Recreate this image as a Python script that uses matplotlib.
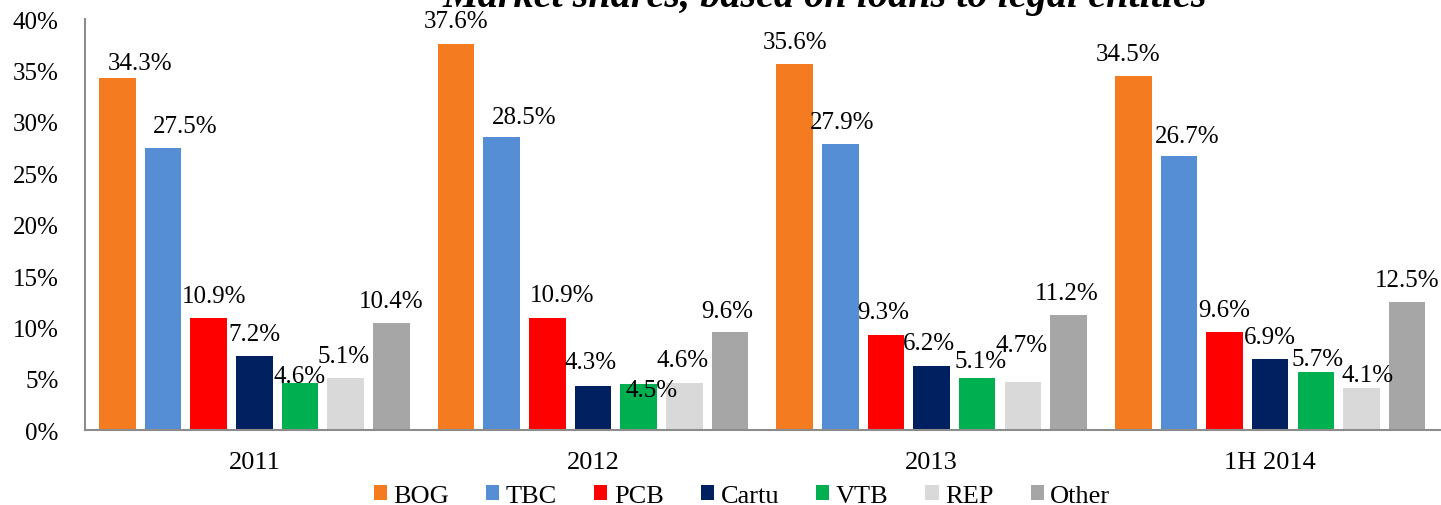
import numpy as np
import matplotlib.pyplot as plt

plt.rcParams['font.family'] = ['Liberation Serif', 'DejaVu Serif']

periods = ['2011', '2012', '2013', '1H 2014']
banks = ['BOG', 'TBC', 'PCB', 'Cartu', 'VTB', 'REP', 'Other']
colors = ['#F47B20', '#558ED5', '#FF0000', '#002060', '#00B050', '#D9D9D9', '#A6A6A6']

# market share (%) per bank, one value per period
bog = [34.3, 37.6, 35.6, 34.5]
tbc = [27.5, 28.5, 27.9, 26.7]
pcb = [10.9, 10.9, 9.3, 9.6]
cartu = [7.2, 4.3, 6.2, 6.9]
vtb = [4.6, 4.5, 5.1, 5.7]
rep = [5.1, 4.6, 4.7, 4.1]
other = [10.4, 9.6, 11.2, 12.5]
series = [bog, tbc, pcb, cartu, vtb, rep, other]

# label nudges in pixels (dx, gap above bar top); default is (0, 16)
nudges = {
    (0, 0): (23, 9), (0, 1): (22, 16), (0, 2): (5, 16), (0, 4): (0, 1), (0, 5): (-2, 16),
    (1, 0): (0, 17), (1, 1): (23, 14), (1, 2): (15, 17), (1, 3): (-2, 18),
    (1, 4): (13, -12), (1, 5): (-2, 17), (1, 6): (-3, 15),
    (2, 1): (2, 16), (2, 2): (-3, 17), (2, 3): (-3, 17), (2, 4): (3, 11),
    (2, 5): (-1, 31), (2, 6): (-2, 16),
    (3, 0): (-5, 16), (3, 1): (8, 14), (3, 4): (2, 7), (3, 5): (6, 7),
}

fig = plt.figure(figsize=(14.41, 5.06), dpi=100)
ax = fig.add_axes([0.059, 0.148, 0.940, 0.812])

x = np.arange(len(periods))
pitch = 0.1348
width = 0.1077
px = 0.72  # points per pixel at 100 dpi

for j, (name, vals, c) in enumerate(zip(banks, series, colors)):
    pos = x + (j - 3) * pitch
    ax.bar(pos, np.array(vals) / 100, width=width, color=c, label=name, zorder=2)
    for i, v in enumerate(vals):
        dx, gap = nudges.get((i, j), (0, 16))
        ax.annotate(f'{v:.1f}%', (pos[i], v / 100), xytext=(dx * px, gap * px),
                    textcoords='offset points', ha='center', va='baseline',
                    fontsize=18, color='black', zorder=3)

ax.set_xlim(-0.5, 3.5)
ax.set_ylim(0, 0.40)
ax.set_yticks(np.arange(0, 0.401, 0.05))
ax.set_yticklabels([f'{int(round(t * 100))}%' for t in np.arange(0, 0.401, 0.05)])
ax.set_xticks(x)
ax.set_xticklabels(periods)
ax.tick_params(axis='y', length=0, pad=19, labelsize=18)
ax.tick_params(axis='x', length=0, pad=15, labelsize=19)
for s in ['top', 'right']:
    ax.spines[s].set_visible(False)
for s in ['left', 'bottom']:
    ax.spines[s].set_color('#8C8C8C')
    ax.spines[s].set_linewidth(1.5)

ax.legend(loc='center', bbox_to_anchor=(0.515, 0.018), bbox_transform=fig.transFigure,
          ncol=7, frameon=False, fontsize=19, handlelength=0.5, handleheight=0.5,
          handletextpad=0.25, columnspacing=1.4, borderaxespad=0, borderpad=0)

fig.text(0.5725, 0.987, 'Market shares, based on loans to legal entities',
         ha='center', va='baseline', fontsize=29, fontweight='bold', style='italic')

fig.savefig('out.png', dpi=100)
